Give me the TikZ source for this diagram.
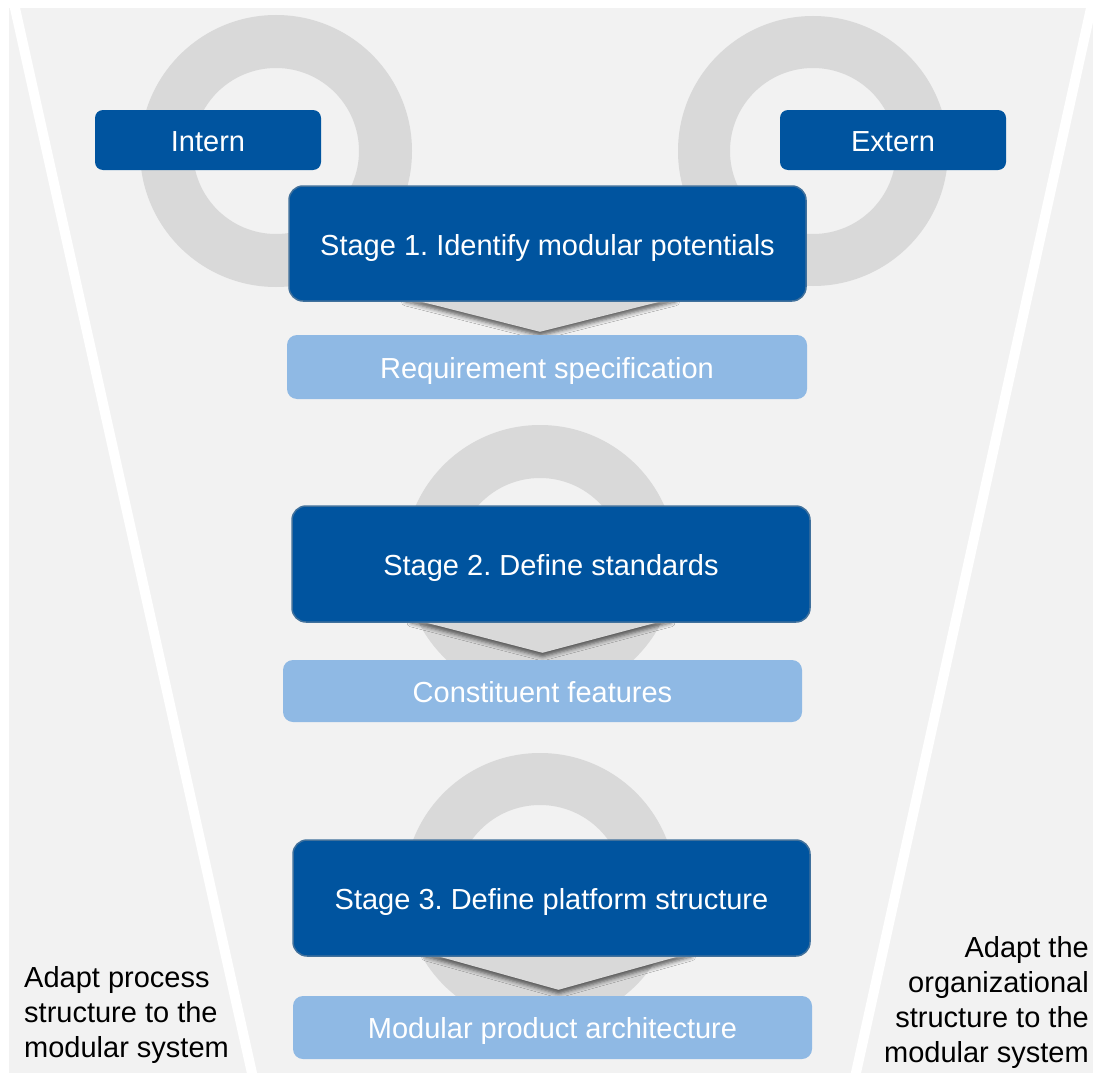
\documentclass[tikz,border=0pt]{standalone}
\usepackage{fontspec}
\setmainfont{Liberation Sans}
\usetikzlibrary{calc,shadows.blur}
\definecolor{bggray}{HTML}{F2F2F2}
\definecolor{ringgray}{HTML}{D9D9D9}
\definecolor{darkblue}{RGB}{0,84,159}
\definecolor{boxborder}{RGB}{65,113,156}
\definecolor{lightblue}{RGB}{143,185,228}
\pgfdeclarelayer{bglayer}
\pgfsetlayers{bglayer,main}
\frenchspacing
\begin{document}
\frenchspacing
\begin{tikzpicture}[x=1pt,y=-1pt,
  bigfont/.style={font=\fontsize{29}{35}\selectfont},
  tag/.style={bigfont, fill=darkblue, text=white, rounded corners=8pt,
    minimum width=226pt, minimum height=60pt, inner sep=0pt,
    text height=22pt, text depth=0pt},
  stagebox/.style={bigfont, fill=darkblue, draw=boxborder, line width=1.5pt,
    text=white, rounded corners=14pt, minimum width=516pt, minimum height=114pt,
    inner sep=0pt, text height=23pt, text depth=0pt},
  resultbox/.style={bigfont, fill=lightblue, text=white, rounded corners=10pt,
    minimum width=519pt, minimum height=63pt, inner sep=0pt,
    text height=22pt, text depth=0pt},
  flowarrow/.style={fill=ringgray, blur shadow={shadow xshift=0pt,
    shadow yshift=-4pt, shadow blur radius=4pt, shadow opacity=60}},
  ring/.style={fill=ringgray, even odd rule},
  divider/.style={white, line width=10pt},
  note/.style={bigfont, inner sep=0pt, text=black}
]
\useasboundingbox (0,0) rectangle (1093,1073);

% nodes
\node[tag] (intern) at (208,140) {Intern};
\node[tag] (extern) at (893,140) {Extern};
\node[stagebox, minimum width=517pt, minimum height=115pt] (s1) at (547.5,243.5) {Stage 1. Identify modular potentials};
\node[resultbox, minimum width=520pt, minimum height=64pt] (r1) at (547,367) {Requirement specification};
\node[stagebox, minimum width=518pt, minimum height=116pt] (s2) at (551,564) {Stage 2. Define standards};
\node[resultbox, minimum height=62pt] (r2) at (542.5,691) {Constituent features};
\node[stagebox, minimum width=517pt, minimum height=116pt] (s3) at (551.5,898) {Stage 3. Define platform structure};
\node[resultbox] (r3) at (552.5,1027.5) {Modular product architecture};

\node[note, align=left, anchor=north west] (lnote) at (24,966) {Adapt process\\structure to the\\modular system};
\node[note, align=right, anchor=north east] (rnote) at (1089,936) {Adapt the\\organizational\\structure to the\\modular system};

\begin{pgfonlayer}{bglayer}
  \fill[white] (0,0) rectangle (1093,1073);
  \fill[bggray] (9,8) rectangle (1093,1073);
  \draw[divider] (13.2,0) -- (253.5,1080);
  \draw[divider] (1092.8,0) -- (854.4,1080);
  \fill[ring] (276,151) circle (136pt) (276,151) circle (83pt);
  \fill[ring] (813,151) circle (135pt) (813,151) circle (83pt);
  \fill[ring] (540,561) circle (136pt) (540,561) circle (83pt);
  \fill[ring] (540,889) circle (136pt) (540,889) circle (84pt);
  % flow arrows from stage boxes to result boxes
  \fill[flowarrow] ($(s1.south)+(-142,-4)$) -- ($(s1.south)+(128,-4)$) -- ($(r1.north)+(-7,-3)$) -- cycle;
  \fill[flowarrow] ($(s2.south)+(-140,-4)$) -- ($(s2.south)+(120,-4)$) -- ($(r2.north)+(0,-7)$) -- cycle;
  \fill[flowarrow] ($(s3.south)+(-126,-4)$) -- ($(s3.south)+(140,-4)$) -- ($(r3.north)+(6,-6)$) -- cycle;
\end{pgfonlayer}
\end{tikzpicture}
\end{document}
